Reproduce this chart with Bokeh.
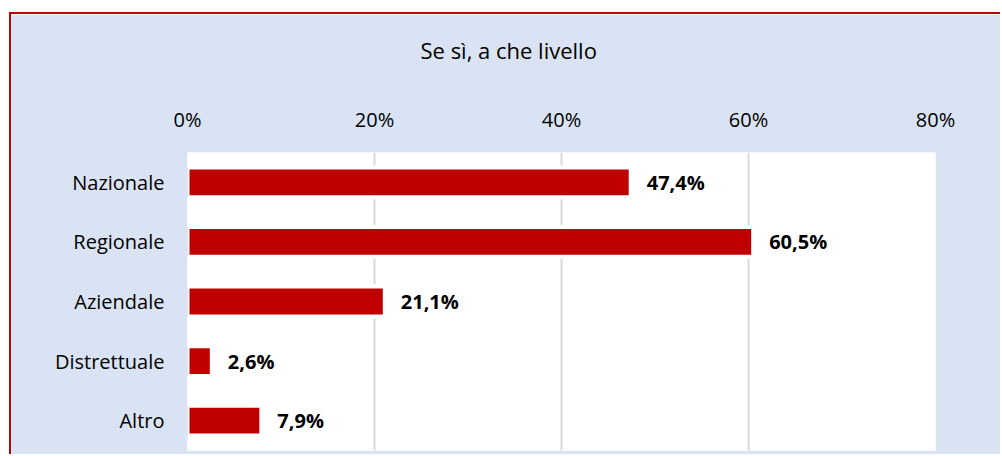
from bokeh.plotting import figure
from bokeh.models import (ColumnDataSource, FactorRange, Range1d, PrintfTickFormatter,
                          FixedTicker, Title)
from bokeh.core.properties import value
from bokeh.embed import file_html
from bokeh.resources import INLINE

# ---- data ----
categories = ["Nazionale", "Regionale", "Aziendale", "Distrettuale", "Altro"]
percentages = [47.4, 60.5, 21.1, 2.6, 7.9]
x_ticks = [0, 20, 40, 60, 80]
title_text = "Se sì, a che livello"

labels = [f"{v:.1f}".replace(".", ",") + "%" for v in percentages]

BG = "#DAE3F3"
RED = "#C00000"
FONT = "Open Sans"

source = ColumnDataSource(data=dict(cat=categories, val=percentages, lab=labels))

p = figure(
    width=991, height=442,
    y_range=FactorRange(*reversed(categories)),
    x_range=Range1d(0, 80),
    x_axis_location="above",
    output_backend="svg",
    toolbar_location=None,
    min_border_left=176, min_border_right=67,
    min_border_top=138, min_border_bottom=6,
)
p.styles = {
    "margin-top": "12px",
    "margin-left": "9px",
    "border-top": f"2px solid {RED}",
    "border-left": f"2px solid {RED}",
}

p.background_fill_color = "white"
p.border_fill_color = BG
p.outline_line_color = None

p.hbar(y="cat", right="val", left=0, height=0.5, source=source,
       fill_color=RED, line_color="white", line_width=4)

p.text(x="val", y="cat", text="lab", source=source, x_offset=16,
       text_baseline="middle", text_align="left",
       text_font=value(FONT), text_font_style="bold",
       text_font_size="20px", text_color="black")

xa = p.xaxis[0]
xa.ticker = FixedTicker(ticks=x_ticks)
xa.formatter = PrintfTickFormatter(format="%d%%")
xa.axis_line_color = None
xa.major_tick_line_color = None
xa.minor_tick_line_color = None
xa.major_tick_in = 0
xa.major_tick_out = 0
xa.major_label_standoff = 20
xa.major_label_text_font = FONT
xa.major_label_text_font_size = "20px"
xa.major_label_text_color = "black"

t = Title(text=title_text, align="left", offset=233, standoff=10,
          text_font_size="22px", text_font=FONT, text_font_style="normal",
          text_color="black")
if "padding" in t.properties():
    try:
        t.padding = dict(left=0, right=0, top=0, bottom=33)
    except Exception:
        pass
p.title = t

ya = p.yaxis[0]
ya.axis_line_color = None
ya.major_tick_line_color = None
ya.minor_tick_line_color = None
ya.major_tick_in = 0
ya.major_tick_out = 0
ya.major_label_standoff = 23
ya.major_label_text_font = FONT
ya.major_label_text_font_size = "20px"
ya.major_label_text_color = "black"

p.xgrid.grid_line_color = "#D9D9D9"
p.xgrid.grid_line_width = 2
p.xgrid.ticker = FixedTicker(ticks=x_ticks)
p.ygrid.grid_line_color = None

open("out.html", "w").write(file_html(p, INLINE))
